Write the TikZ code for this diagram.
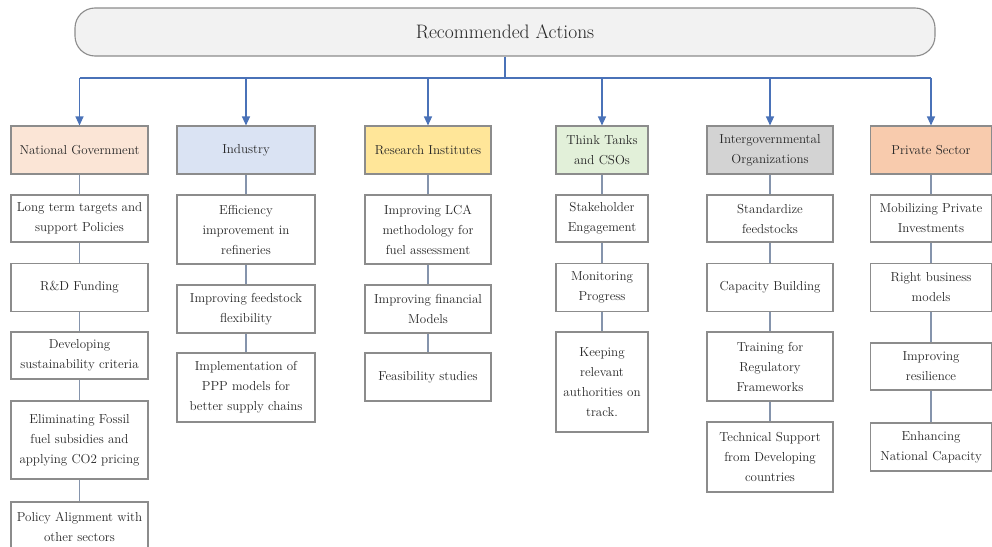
\documentclass[tikz,border=0pt]{standalone}
\usetikzlibrary{arrows.meta}
\definecolor{bordergray}{HTML}{8C8C8C}
\definecolor{txtgray}{HTML}{262626}
\definecolor{bluearrow}{HTML}{4A72B8}
\definecolor{linkgray}{HTML}{8594AC}
\definecolor{topfill}{HTML}{F2F2F2}
\definecolor{ngfill}{HTML}{FBE5D6}
\definecolor{infill}{HTML}{DAE3F3}
\definecolor{rifill}{HTML}{FFE699}
\definecolor{ttfill}{HTML}{E2F0D9}
\definecolor{igfill}{HTML}{D3D3D3}
\definecolor{psfill}{HTML}{F8CBAD}
\tikzset{
  cellbox/.style={draw=bordergray, line width=1.1pt, fill=white, align=center,
    inner sep=0pt, text=txtgray, font=\fontsize{13}{20}\selectfont},
  headbox/.style={cellbox},
  topbox/.style={draw=bordergray, line width=1.1pt, fill=topfill, rounded corners=20pt,
    minimum width=860pt, minimum height=48pt, inner sep=0pt, text=txtgray,
    font=\fontsize{19.5}{22}\selectfont},
  bline/.style={draw=bluearrow, line width=1.2pt},
  barrow/.style={draw=bluearrow, line width=1.2pt, -{Triangle[width=8pt,length=9pt]}},
  link/.style={draw=linkgray, line width=1.1pt}
}
\begin{document}
\begin{tikzpicture}[x=1pt,y=1pt]
\clip (0,0) rectangle (992,-546);
\fill[white] (0,0) rectangle (992,-546);

\node[topbox] (top) at (505,-32) {Recommended Actions};

% headers
\node[headbox, fill=ngfill, minimum width=137pt, minimum height=48pt] (ngh) at (79.5,-150) {National Government};
\node[headbox, fill=infill, minimum width=138pt, minimum height=48pt] (inh) at (246,-150) {Industry};
\node[headbox, fill=rifill, minimum width=126pt, minimum height=48pt] (rih) at (428,-150) {Research Institutes};
\node[headbox, fill=ttfill, minimum width=92pt, minimum height=48pt] (tth) at (602,-150) {Think Tanks\\and CSOs};
\node[headbox, fill=igfill, minimum width=126pt, minimum height=48pt] (igh) at (770,-150) {Intergovernmental\\Organizations};
\node[headbox, fill=psfill, minimum width=121pt, minimum height=48pt] (psh) at (931,-150) {Private Sector};

% bus
\coordinate (bus) at (504,-78);
\draw[bline] (top.south) -- (top.south |- bus);
\draw[bline] (ngh.north |- bus) -- (psh.north |- bus);
\foreach \h in {ngh,inh,rih,tth,igh,psh}{
  \draw[barrow] (\h.north |- bus) -- (\h.north);
}

% National Government
\node[cellbox, minimum width=137pt, minimum height=47pt] (ng1) at (79.5,-218.5) {Long term targets and\\support Policies};
\node[cellbox, minimum width=137pt, minimum height=48pt] (ng2) at (79.5,-287.5) {R\&D Funding};
\node[cellbox, minimum width=137pt, minimum height=47pt] (ng3) at (79.5,-355.5) {Developing\\sustainability criteria};
\node[cellbox, minimum width=137pt, minimum height=78pt] (ng4) at (79.5,-440) {Eliminating Fossil\\fuel subsidies and\\applying CO2 pricing};
\node[cellbox, minimum width=137pt, minimum height=50pt] (ng5) at (79.5,-527) {Policy Alignment with\\other sectors};
\draw[link] (ngh) -- (ng1);
\draw[link] (ng1) -- (ng2);
\draw[link] (ng2) -- (ng3);
\draw[link] (ng3) -- (ng4);
\draw[link] (ng4) -- (ng5);

% Industry
\node[cellbox, minimum width=138pt, minimum height=69pt] (in1) at (246,-229.5) {Efficiency\\improvement in\\refineries};
\node[cellbox, minimum width=138pt, minimum height=48pt] (in2) at (246,-309) {Improving feedstock\\flexibility};
\node[cellbox, minimum width=138pt, minimum height=69pt] (in3) at (246,-387.5) {Implementation of\\PPP models for\\better supply chains};
\draw[link] (inh) -- (in1);
\draw[link] (in1) -- (in2);
\draw[link] (in2) -- (in3);

% Research Institutes
\node[cellbox, minimum width=126pt, minimum height=69pt] (ri1) at (428,-229.5) {Improving LCA\\methodology for\\fuel assessment};
\node[cellbox, minimum width=126pt, minimum height=48pt] (ri2) at (428,-309) {Improving financial\\Models};
\node[cellbox, minimum width=126pt, minimum height=48pt] (ri3) at (428,-377) {Feasibility studies};
\draw[link] (rih) -- (ri1);
\draw[link] (ri1) -- (ri2);
\draw[link] (ri2) -- (ri3);

% Think Tanks
\node[cellbox, minimum width=92pt, minimum height=47pt] (tt1) at (602,-218.5) {Stakeholder\\Engagement};
\node[cellbox, minimum width=92pt, minimum height=48pt] (tt2) at (602,-287.5) {Monitoring\\Progress};
\node[cellbox, minimum width=92pt, minimum height=100pt] (tt3) at (602,-382) {Keeping\\relevant\\authorities on\\track.};
\draw[link] (tth) -- (tt1);
\draw[link] (tt1) -- (tt2);
\draw[link] (tt2) -- (tt3);

% Intergovernmental
\node[cellbox, minimum width=126pt, minimum height=47pt] (ig1) at (770,-218.5) {Standardize\\feedstocks};
\node[cellbox, minimum width=126pt, minimum height=48pt] (ig2) at (770,-287.5) {Capacity Building};
\node[cellbox, minimum width=126pt, minimum height=69pt] (ig3) at (770,-366.5) {Training for\\Regulatory\\Frameworks};
\node[cellbox, minimum width=126pt, minimum height=70pt] (ig4) at (770,-457) {Technical Support\\from Developing\\countries};
\draw[link] (igh) -- (ig1);
\draw[link] (ig1) -- (ig2);
\draw[link] (ig2) -- (ig3);
\draw[link] (ig3) -- (ig4);

% Private Sector
\node[cellbox, minimum width=121pt, minimum height=47pt] (ps1) at (931,-218.5) {Mobilizing Private\\Investments};
\node[cellbox, minimum width=121pt, minimum height=48pt] (ps2) at (931,-287.5) {Right business\\models};
\node[cellbox, minimum width=121pt, minimum height=47pt] (ps3) at (931,-366.5) {Improving\\resilience};
\node[cellbox, minimum width=121pt, minimum height=48pt] (ps4) at (931,-447) {Enhancing\\National Capacity};
\draw[link] (psh) -- (ps1);
\draw[link] (ps1) -- (ps2);
\draw[link] (ps2) -- (ps3);
\draw[link] (ps3) -- (ps4);
\end{tikzpicture}
\end{document}
